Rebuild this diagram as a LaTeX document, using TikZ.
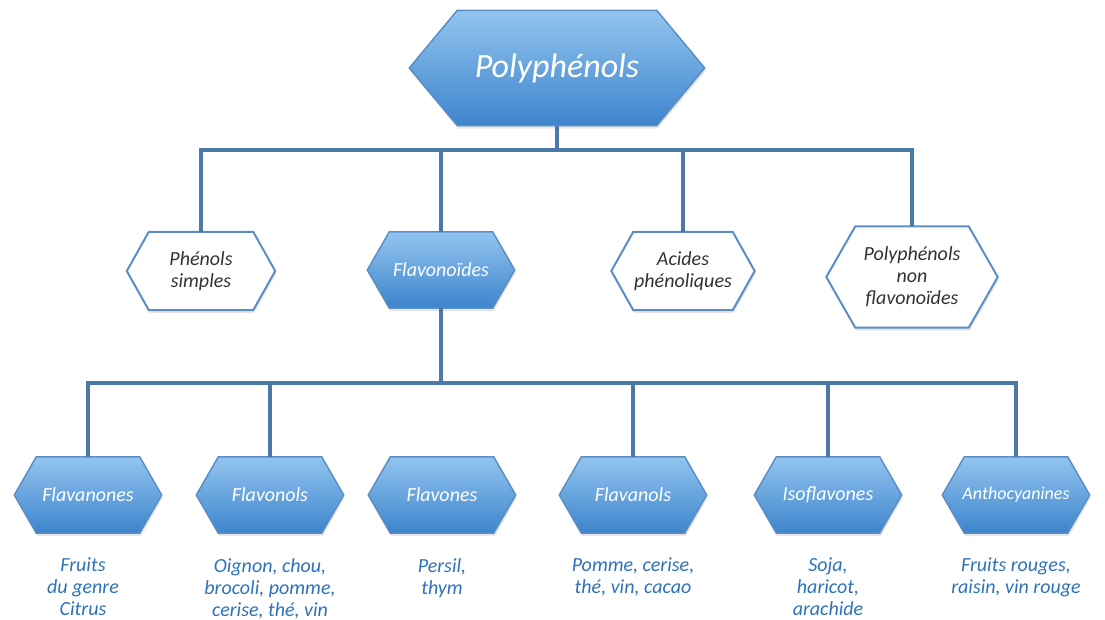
\documentclass[tikz,border=0pt]{standalone}
\usepackage{fontspec}
\setmainfont{Carlito}
\usetikzlibrary{backgrounds}
\usetikzlibrary{shadows}
\definecolor{hexlight}{HTML}{92C5EF}
\definecolor{hexdark}{HTML}{3D84CC}
\definecolor{hexborder}{HTML}{5B8FC4}
\definecolor{linkblue}{HTML}{4A79A8}
\definecolor{foodblue}{HTML}{2E72B8}
\definecolor{textgray}{HTML}{333333}

\begin{document}
\begin{tikzpicture}[x=1pt,y=-1pt,
  hexnode/.style={align=center,inner sep=0pt,minimum width=147pt,minimum height=76pt},
  bluenode/.style={hexnode,text=white,font=\itshape\fontsize{20}{22}\selectfont},
  whitenode/.style={hexnode,text=textgray,font=\itshape\fontsize{20}{22}\selectfont,minimum height=78pt},
  hexblue/.style={draw=hexborder,line width=1.5pt,top color=hexlight,bottom color=hexdark,drop shadow={opacity=0.2,shadow xshift=1pt,shadow yshift=-3pt}},
  hexwhite/.style={draw=hexborder,line width=2pt,fill=white,drop shadow={opacity=0.2,shadow xshift=1pt,shadow yshift=-3pt}},
  link/.style={draw=linkblue,line width=3.5pt},
  food/.style={text=foodblue,font=\itshape\fontsize{20}{22}\selectfont,align=center,anchor=north,inner sep=0pt}]
\useasboundingbox (0,0) rectangle (1105,620);

\node[bluenode,minimum width=295pt,minimum height=115pt,font=\itshape\fontsize{34}{40}\selectfont] (poly) at (557,68) {Polyphénols};

\node[whitenode,minimum width=148pt] (phen) at (201,271) {Phénols\\simples};
\node[bluenode] (flavo) at (441,270) {Flavonoïdes};
\node[whitenode,minimum width=143pt] (acid) at (683,271) {Acides\\phénoliques};
\node[whitenode,minimum width=171pt,minimum height=101pt] (nonfl) at (912,277) {Polyphénols\\non\\flavonoïdes};

\node[bluenode] (flavanones) at (88,495) {Flavanones};
\node[bluenode] (flavonols) at (270,495) {Flavonols};
\node[bluenode] (flavones) at (442,495) {Flavones};
\node[bluenode] (flavanols) at (633,495) {Flavanols};
\node[bluenode] (isofl) at (828,495) {Isoflavones};
\node[bluenode,font=\itshape\fontsize{18}{22}\selectfont] (antho) at (1016,495) {Anthocyanines};

\begin{scope}[on background layer]
\foreach \n/\s in {poly/48,flavo/22,flavanones/22,flavonols/22,flavones/22,flavanols/22,isofl/22,antho/22}
  \path[hexblue] (\n.west) -- ([xshift=\s pt]\n.north west) -- ([xshift=-\s pt]\n.north east) -- (\n.east) -- ([xshift=-\s pt]\n.south east) -- ([xshift=\s pt]\n.south west) -- cycle;
\foreach \n/\s in {phen/22,acid/22,nonfl/29}
  \path[hexwhite] (\n.west) -- ([xshift=\s pt]\n.north west) -- ([xshift=-\s pt]\n.north east) -- (\n.east) -- ([xshift=-\s pt]\n.south east) -- ([xshift=\s pt]\n.south west) -- cycle;
\end{scope}

\coordinate (bus1) at (560,150);
\draw[link] (poly.south) -- (poly.south |- bus1);
\draw[link] (phen.north) |- (bus1) -| (nonfl.north);
\draw[link] (flavo.north) -- (flavo.north |- bus1);
\draw[link] (acid.north) -- (acid.north |- bus1);

\coordinate (bus2) at (441,383);
\draw[link] (flavo.south) -- (flavo.south |- bus2);
\draw[link] (flavanones.north) |- (bus2) -| (antho.north);
\draw[link] (flavonols.north) -- (flavonols.north |- bus2);
\draw[link] (flavanols.north) -- (flavanols.north |- bus2);
\draw[link] (isofl.north) -- (isofl.north |- bus2);

\node[food] (flavanonesfood) at (83,558) {Fruits\\du genre\\Citrus};
\node[food] (flavonolsfood) at (270,558) {Oignon, chou,\\brocoli, pomme,\\cerise, thé, vin};
\node[food] (flavonesfood) at (442,558) {Persil,\\thym};
\node[food] (flavanolsfood) at (633,558) {Pomme, cerise,\\thé, vin, cacao};
\node[food] (isoflfood) at (828,558) {Soja,\\haricot,\\arachide};
\node[food] (anthofood) at (1016,558) {Fruits rouges,\\raisin, vin rouge};

\end{tikzpicture}
\end{document}
